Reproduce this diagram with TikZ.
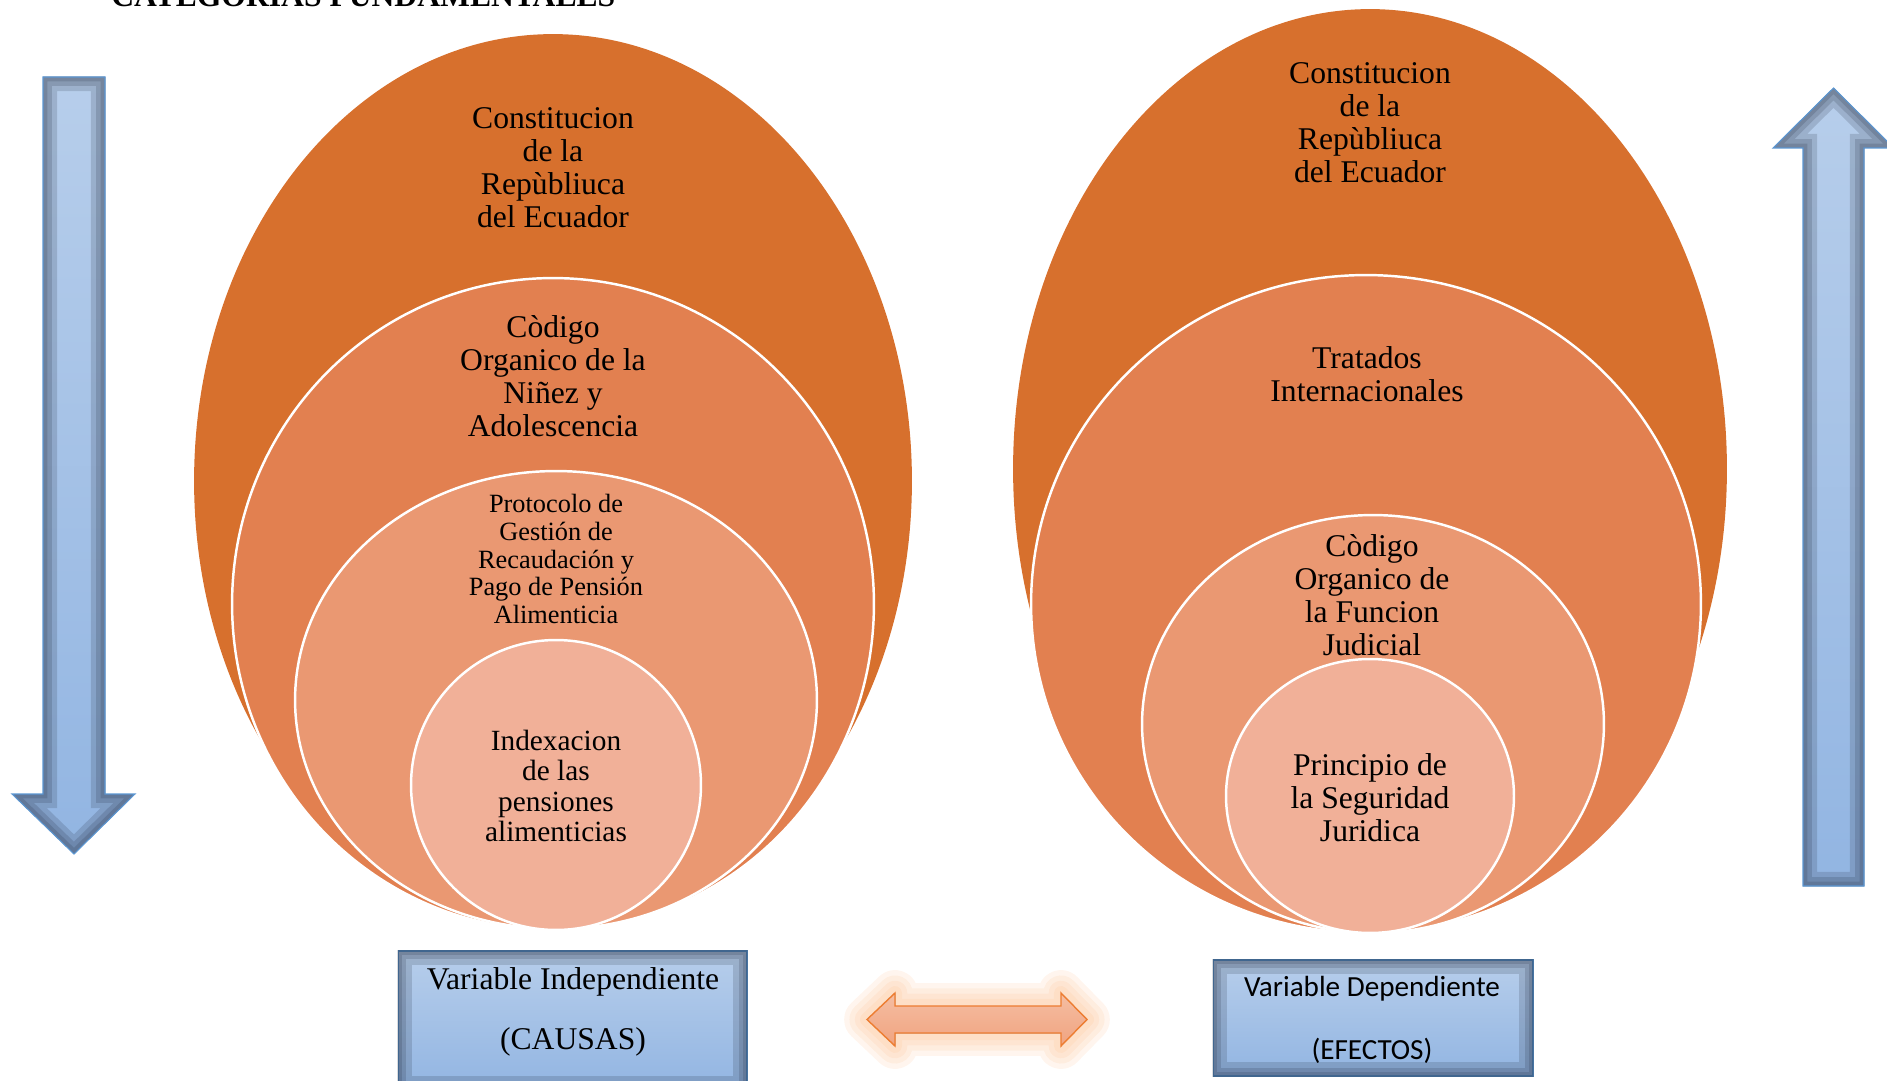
\documentclass[tikz,border=0pt]{standalone}
\usepackage{fontspec}
\setmainfont{Liberation Serif}
\newfontfamily\calibrifont{Carlito}
\usepackage{xcolor}
\usepackage{tikz}
\usetikzlibrary{shapes.geometric, arrows, positioning}

\definecolor{orangeA}{RGB}{215,112,45}
\definecolor{orangeB}{RGB}{226,128,80}
\definecolor{orangeC}{RGB}{234,152,114}
\definecolor{orangeD}{RGB}{241,176,152}
\definecolor{blueTop}{RGB}{183,206,235}
\definecolor{blueBot}{RGB}{146,181,226}
\definecolor{blueLine}{RGB}{91,150,210}
\definecolor{shadowgray}{RGB}{30,38,55}
\definecolor{peachTop}{RGB}{245,190,162}
\definecolor{peachBot}{RGB}{240,163,128}
\definecolor{peachLine}{RGB}{237,125,49}
\definecolor{glowcol}{RGB}{252,175,115}

% outlines of the big arrows (pixel units of the picture)
\newcommand{\causepath}{(43,77) -- (105,77) -- (105,794) -- (135,794) -- (74,854) -- (12,794) -- (43,794) -- cycle}
\newcommand{\effectpath}{(1803,886) -- (1864,886) -- (1864,148) -- (1894,148) -- (1833.5,88) -- (1773,148) -- (1803,148) -- cycle}
\newcommand{\linkpath}{(867,1019.5) -- (895,993) -- (895,1006) -- (1061,1006) -- (1061,993) -- (1087,1019.5) -- (1061,1046) -- (1061,1033) -- (895,1033) -- (895,1046) -- cycle}

\begin{document}
\begin{tikzpicture}[x=0.02cm, y=-0.02cm]
\tikzstyle{outer} = [ellipse, fill=orangeA, inner sep=0pt]
\tikzstyle{level} = [ellipse, draw=white, line width=1.4pt, inner sep=0pt]
\tikzstyle{lbl} = [align=center, inner sep=0pt, font=\fontsize{18}{18.8}\selectfont]
\tikzstyle{varbox} = [rectangle, draw=blueLine, line width=0.6pt, top color=blueTop, bottom color=blueBot, inner sep=0pt]

\useasboundingbox (0,0) rectangle (1887,1081);

\node (titulo) [anchor=base west, inner sep=0pt, font=\bfseries\fontsize{18}{20}\selectfont] at (111,7) {CATEGORIAS FUNDAMENTALES};

% left target
\node (constI) [outer, minimum width=14.36cm, minimum height=17.88cm] at (553,481) {};
\node (codNinez) [level, fill=orangeB, minimum width=12.84cm, minimum height=13.04cm] at (553,604) {};
\node (protocolo) [level, fill=orangeC, minimum width=10.44cm, minimum height=9.16cm] at (556,700) {};
\node (indexacion) [level, fill=orangeD, minimum width=5.8cm, minimum height=5.8cm] at (556,785) {};

\node (constIlbl) [lbl] at (553,168) {Constitucion\\de la\\Repùbliuca\\del Ecuador};
\node (codNinezlbl) [lbl] at (553,376) {Còdigo\\Organico de la\\Niñez y\\Adolescencia};
\node (protocololbl) [lbl, font=\fontsize{15}{15.7}\selectfont] at (556,559) {Protocolo de\\Gestión de\\Recaudación y\\Pago de Pensión\\Alimenticia};
\node (indexacionlbl) [lbl, font=\fontsize{16.7}{17.3}\selectfont] at (556,786) {Indexacion\\de las\\pensiones\\alimenticias};

% right target
\node (constD) [outer, minimum width=14.28cm, minimum height=18.4cm] at (1370,469) {};
\node (tratados) [level, fill=orangeB, minimum width=13.4cm, minimum height=13.16cm] at (1366,604) {};
\node (codJudicial) [level, fill=orangeC, minimum width=9.24cm, minimum height=8.36cm] at (1373,724) {};
\node (seguridad) [level, fill=orangeD, minimum width=5.76cm, minimum height=5.48cm] at (1370,796) {};

\node (constDlbl) [lbl] at (1370,123) {Constitucion\\de la\\Repùbliuca\\del Ecuador};
\node (tratadoslbl) [lbl] at (1367,374) {Tratados\\Internacionales};
\node (codJudiciallbl) [lbl] at (1372,595) {Còdigo\\Organico de\\la Funcion\\Judicial};
\node (seguridadlbl) [lbl] at (1370,798) {Principio de\\la Seguridad\\Juridica};

% vertical arrows
\fill[top color=blueTop, bottom color=blueBot] \causepath;
\begin{scope}
  \clip \causepath;
  \foreach \w in {16,10,5}
    \draw[shadowgray, opacity=0.17, line width=\w pt, line join=miter] \causepath;
\end{scope}
\draw[blueLine, line width=0.6pt] \causepath;

\fill[top color=blueTop, bottom color=blueBot] \effectpath;
\begin{scope}
  \clip \effectpath;
  \foreach \w in {16,10,5}
    \draw[shadowgray, opacity=0.17, line width=\w pt, line join=miter] \effectpath;
\end{scope}
\draw[blueLine, line width=0.6pt] \effectpath;

% variable boxes
\node (causas) [varbox, minimum width=6.98cm, minimum height=2.78cm] at (572.5,1020.5) {};
\node (efectos) [varbox, minimum width=6.4cm, minimum height=2.32cm] at (1373,1018) {};
\begin{scope}
  \clip (causas.south west) rectangle (causas.north east);
  \foreach \w in {16,10,5}
    \draw[shadowgray, opacity=0.17, line width=\w pt] (causas.south west) rectangle (causas.north east);
\end{scope}
\begin{scope}
  \clip (efectos.south west) rectangle (efectos.north east);
  \foreach \w in {16,10,5}
    \draw[shadowgray, opacity=0.17, line width=\w pt] (efectos.south west) rectangle (efectos.north east);
\end{scope}

\node (causaslbl) [align=center, inner sep=0pt, font=\fontsize{18}{34}\selectfont] at (573,1012) {Variable Independiente\\(CAUSAS)};
\node (efectoslbl) [align=center, inner sep=0pt, font=\calibrifont\fontsize{16.6}{36.3}\selectfont] at (1372,1020) {Variable Dependiente\\(EFECTOS)};

% double arrow between the variables
\foreach \w in {26,20,14,8}
  \draw[glowcol, opacity=0.12, line width=\w pt, line join=round] \linkpath;
\fill[top color=peachTop, bottom color=peachBot] \linkpath;
\draw[peachLine, line width=0.8pt] \linkpath;

\end{tikzpicture}
\end{document}
